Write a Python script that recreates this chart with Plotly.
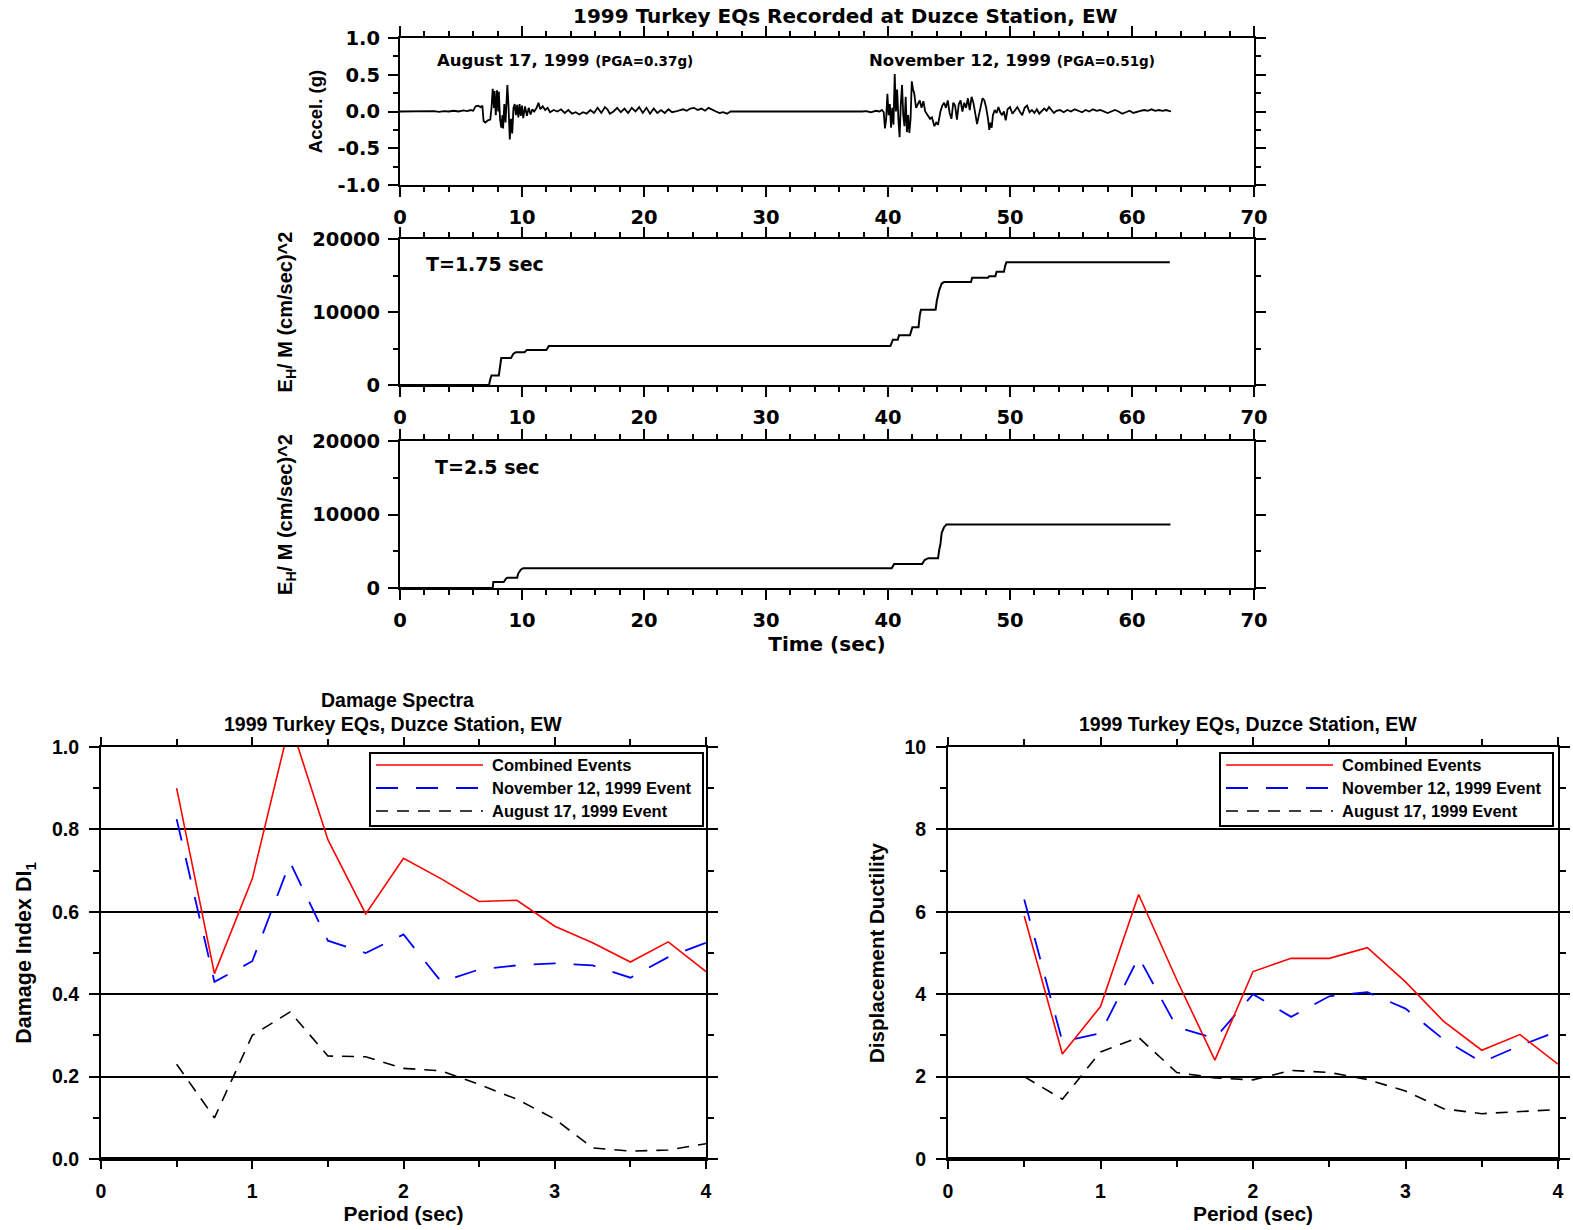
import plotly.graph_objects as go

W, H = 1573, 1230
FONT = "Liberation Sans, Arial, sans-serif"
FONT_WIDE = "DejaVu Sans, Liberation Sans, sans-serif"

# ---------------- data ----------------
# acceleration time history (g), both events back to back
acc_t = [0, 1.0, 1.2, 1.6, 2.0, 2.4, 2.8, 3.2, 3.6, 4.0, 4.4, 4.8, 5.2, 5.5, 5.8, 6.0, 6.2, 6.4, 6.6, 6.75,
         6.85, 7.0, 7.2, 7.4, 7.5, 7.6, 7.7, 7.75, 7.85, 7.95, 8.05, 8.1, 8.2, 8.3, 8.4, 8.45, 8.55, 8.65, 8.8, 8.9,
         9.0, 9.1, 9.2, 9.3, 9.4, 9.5, 9.6, 9.7, 9.8, 9.9, 10.0, 10.1, 10.25, 10.4, 10.55, 10.7, 10.85, 11.0, 11.2, 11.35,
         11.5, 11.7, 11.9, 12.1, 12.3, 12.6, 12.9, 13.2, 13.5, 13.8, 14.1, 14.4, 14.7, 15.0, 15.3, 15.6, 15.9, 16.2, 16.5, 16.8,
         17.0, 17.2, 17.5, 17.8, 18.1, 18.4, 18.7, 19.0, 19.3, 19.6, 19.9, 20.2, 20.5, 20.8, 21.1, 21.4, 21.7, 22.0, 22.3, 22.6,
         22.9, 23.2, 23.5, 23.8, 24.1, 24.4, 24.7, 25.0, 25.3, 25.6, 25.9, 26.2, 26.5, 26.8, 27.1,
         37.9, 38.2, 38.6, 39.0, 39.3, 39.5, 39.65, 39.75, 39.85, 39.95, 40.05, 40.15, 40.25, 40.35, 40.45, 40.55, 40.65,
         40.75, 40.85, 40.95, 41.05, 41.15, 41.25, 41.35, 41.45, 41.55, 41.65, 41.75, 41.85, 41.95, 42.05, 42.15, 42.3,
         42.45, 42.6, 42.75, 42.9, 43.05, 43.25, 43.45, 43.6, 43.8, 43.95, 44.1, 44.3, 44.45, 44.6, 44.75, 44.9, 45.05,
         45.2, 45.35, 45.5, 45.65, 45.8, 45.95, 46.1, 46.25, 46.4, 46.55, 46.7, 46.85, 47.0, 47.15, 47.3, 47.45, 47.6,
         47.75, 47.9, 48.05, 48.2, 48.3, 48.4, 48.5, 48.6, 48.75, 48.9, 49.05, 49.2, 49.35, 49.5, 49.65, 49.8, 50.0,
         50.2, 50.4, 50.6, 50.8, 51.0, 51.2, 51.4, 51.6, 51.8, 52.0, 52.2, 52.4, 52.6, 52.8, 53.0, 53.2, 53.4, 53.6,
         53.8, 54.1, 54.4, 54.7, 55.0, 55.3, 55.6, 55.9, 56.2, 56.5, 56.8, 57.1, 57.4, 57.7, 58.0, 58.3, 58.6, 58.9,
         59.2, 59.5, 59.8, 60.1, 60.4, 60.7, 61.0, 61.3, 61.6, 61.9, 62.2, 62.5, 62.8, 63.2]
acc_g = [0, 0.0, 0.01, 0.0, 0.01, 0.0, 0.005, -0.005, 0.005, 0.0, 0.01, 0.0, 0.015, 0.005, 0.02, 0.01, 0.07, 0.08, 0.06, 0.08,
         -0.13, -0.15, -0.12, -0.11, 0.05, 0.31, 0.05, 0.28, -0.05, 0.29, 0.0, 0.27, -0.1, -0.22, -0.05, -0.23, 0.1, -0.15, 0.36, 0.05,
         -0.38, -0.1, -0.3, 0.05, 0.1, -0.05, 0.09, -0.08, 0.1, -0.06, 0.08, -0.09, 0.07, -0.06, 0.05, -0.04, 0.03, 0.0, 0.05, 0.12,
         0.03, 0.07, 0.02, 0.05, -0.01, 0.02, 0.0, 0.03, -0.02, 0.02, -0.03, -0.01, -0.04, -0.01, -0.03, 0.02, -0.02, 0.05, -0.02, 0.06,
         0.03, -0.03, 0.0, 0.05, -0.01, 0.04, -0.02, 0.05, 0.0, 0.06, -0.02, 0.05, -0.03, 0.04, -0.02, 0.02, -0.02, 0.03, -0.01, 0.0,
         0.02, 0.03, 0.01, 0.04, 0.05, 0.02, 0.04, 0.01, 0.05, 0.02, 0.0, -0.02, -0.01, -0.03, 0.0,
         0.0, 0.005, -0.01, 0.01, 0.0, 0.02, -0.01, -0.23, -0.1, 0.24, -0.05, 0.1, -0.22, 0.05, -0.18, 0.51, 0.0,
         0.3, -0.1, -0.35, 0.1, 0.36, -0.05, -0.2, 0.2, -0.28, -0.05, -0.29, -0.1, 0.41, 0.3, 0.25, 0.05,
         0.1, 0.15, 0.05, 0.14, 0.0, -0.05, -0.1, -0.08, -0.2, -0.15, -0.18, 0.0, 0.08, 0.12, 0.05, 0.15, -0.02,
         -0.1, 0.12, 0.08, -0.11, 0.1, 0.15, 0.0, 0.12, 0.05, 0.18, 0.02, 0.2, 0.12, -0.05, -0.17, -0.05, 0.05,
         0.18, 0.15, 0.05, -0.1, -0.25, -0.15, -0.22, -0.05, 0.02, -0.02, 0.06, -0.01, -0.05, 0.0, -0.12, 0.03, 0.06,
         -0.03, 0.02, 0.06, 0.0, -0.05, 0.05, 0.08, -0.01, 0.02, -0.02, 0.03, -0.03, 0.0, 0.04, 0.01, 0.06, 0.02, -0.02,
         0.01, 0.02, -0.01, 0.02, 0.0, 0.03, 0.01, -0.01, 0.02, 0.0, 0.03, 0.01, 0.02, 0.0, -0.02, 0.0, 0.02, 0.0,
         -0.03, -0.01, 0.01, -0.02, 0.0, 0.01, 0.02, 0.01, 0.03, 0.01, 0.02, 0.01, 0.02, 0.0]

# hysteretic energy per unit mass, T = 1.75 s
e175_t = [0, 7.3, 7.4, 7.5, 8.1, 8.2, 8.3, 9.1, 9.3, 9.5, 10.2, 10.4, 12.0, 12.2, 40.2, 40.4, 40.8, 40.9, 41.8, 42.0,
          42.5, 42.6, 42.7, 43.9, 44.0, 44.2, 44.4, 44.6, 46.8, 46.9, 48.2, 48.3, 48.8, 48.9, 49.5, 49.6, 49.7, 63.1]
e175_v = [0, 0, 800, 1300, 1300, 3000, 3700, 3700, 4300, 4500, 4500, 4800, 4800, 5350, 5350, 6200, 6200, 6800, 6800, 7900,
          7900, 9500, 10300, 10300, 11500, 13000, 13900, 14100, 14100, 14700, 14700, 14900, 14900, 15500, 15500, 16300, 16800, 16800]

# hysteretic energy per unit mass, T = 2.5 s
e25_t = [0, 7.6, 7.65, 8.5, 8.7, 8.8, 9.6, 9.7, 9.9, 10.1, 40.3, 40.5, 42.8, 43.0, 43.3, 44.1, 44.2, 44.3, 44.4, 44.6, 44.8, 63.15]
e25_v = [0, 0, 800, 800, 1300, 1400, 1400, 2000, 2500, 2700, 2700, 3250, 3250, 3800, 4050, 4050, 5200, 6000, 7500, 8300, 8650, 8650]

period = [0.5, 0.75, 1.0, 1.25, 1.5, 1.75, 2.0, 2.25, 2.5, 2.75, 3.0, 3.25, 3.5, 3.75, 4.0]
di_comb = [0.90, 0.45, 0.68, 1.06, 0.775, 0.595, 0.73, 0.68, 0.625, 0.628, 0.565, 0.525, 0.478, 0.527, 0.455]
di_nov = [0.825, 0.43, 0.48, 0.72, 0.53, 0.50, 0.545, 0.43, 0.46, 0.47, 0.475, 0.47, 0.44, 0.49, 0.525]
di_aug = [0.23, 0.10, 0.30, 0.357, 0.25, 0.248, 0.22, 0.214, 0.181, 0.145, 0.097, 0.027, 0.019, 0.022, 0.037]

mu_comb = [5.9, 2.55, 3.7, 6.42, 4.35, 2.4, 4.55, 4.87, 4.87, 5.13, 4.3, 3.34, 2.64, 3.02, 2.3]
mu_nov = [6.3, 2.85, 3.05, 4.9, 3.2, 2.93, 4.0, 3.45, 3.95, 4.05, 3.65, 2.9, 2.35, 2.75, 3.1]
mu_aug = [2.0, 1.45, 2.6, 2.95, 2.1, 1.97, 1.92, 2.15, 2.1, 1.93, 1.65, 1.22, 1.1, 1.15, 1.2]

legend_names = ["Combined Events", "November 12, 1999 Event", "August 17, 1999 Event"]
acc_ticks = [-1.0, -0.5, 0.0, 0.5, 1.0]
acc_ticktext = ["-1.0", "-0.5", "0.0", "0.5", "1.0"]

# ---------------- layout helpers ----------------
def fx(px):
    return px / W

def fy(py):
    return 1 - py / H

TOP_X = [fx(400), fx(1254)]
P1_Y = [fy(185), fy(38)]
P2_Y = [fy(385), fy(239)]
P3_Y = [fy(588), fy(441)]
BL_X = [fx(101), fx(706)]
BR_X = [fx(948), fx(1558)]
B_Y = [fy(1159), fy(747)]

RED = "#ff0000"
BLUE = "#0000ff"
BLUE_DASH = "22px,18px"
BLACK_DASH = "12px,9px"

fig = go.Figure()

fig.add_trace(go.Scatter(x=acc_t, y=acc_g, mode="lines", line=dict(color="black", width=1.8),
                         xaxis="x", yaxis="y", showlegend=False))
fig.add_trace(go.Scatter(x=e175_t, y=e175_v, mode="lines", line=dict(color="black", width=2),
                         xaxis="x2", yaxis="y2", showlegend=False))
fig.add_trace(go.Scatter(x=e25_t, y=e25_v, mode="lines", line=dict(color="black", width=2),
                         xaxis="x3", yaxis="y3", showlegend=False))

for xa, ya, comb, nov, aug in [("x4", "y4", di_comb, di_nov, di_aug), ("x5", "y5", mu_comb, mu_nov, mu_aug)]:
    fig.add_trace(go.Scatter(x=period, y=aug, mode="lines", name=legend_names[2],
                             line=dict(color="black", width=1.6, dash=BLACK_DASH),
                             xaxis=xa, yaxis=ya, showlegend=False))
    fig.add_trace(go.Scatter(x=period, y=nov, mode="lines", name=legend_names[1],
                             line=dict(color=BLUE, width=1.8, dash=BLUE_DASH),
                             xaxis=xa, yaxis=ya, showlegend=False))
    fig.add_trace(go.Scatter(x=period, y=comb, mode="lines", name=legend_names[0],
                             line=dict(color=RED, width=1.6),
                             xaxis=xa, yaxis=ya, showlegend=False))


def bold(size, family=FONT):
    return dict(family=family, color="black", weight="bold", size=size)


def axis_common(**kw):
    d = dict(showline=True, linewidth=2, linecolor="black", mirror="ticks", automargin=False,
             ticks="outside", tickwidth=2, tickcolor="black", ticklen=10,
             zeroline=False, showgrid=False, fixedrange=True)
    d.update(kw)
    return d


def top_x(anchor, title=None):
    d = axis_common(domain=TOP_X, anchor=anchor, range=[0, 70], tick0=0, dtick=10,
                    tickfont=bold(19.5, FONT_WIDE), ticklabelstandoff=4,
                    minor=dict(dtick=2, ticks="outside", ticklen=5, tickwidth=2, tickcolor="black"))
    if title:
        d["title"] = dict(text=title, font=bold(20, FONT_WIDE), standoff=2)
    return d


E_TITLE = "E<sub>H</sub>/ M (cm/sec)^2"

layout = dict(
    width=W, height=H, margin=dict(l=0, r=0, t=0, b=0, autoexpand=False),
    paper_bgcolor="white", plot_bgcolor="white", showlegend=False,
    font=dict(family=FONT, color="black"),
    xaxis=top_x("y"),
    yaxis=axis_common(domain=P1_Y, anchor="x", range=[-1, 1], tickvals=acc_ticks, ticktext=acc_ticktext,
                      tickfont=bold(19.5, FONT_WIDE), ticklabelstandoff=4,
                      minor=dict(dtick=0.25, ticks="outside", ticklen=5, tickwidth=2, tickcolor="black"),
                      title=dict(text="Accel. (g)", font=bold(18.5), standoff=10)),
    xaxis2=top_x("y2"),
    yaxis2=axis_common(domain=P2_Y, anchor="x2", range=[0, 20000], tick0=0, dtick=10000, tickformat="d",
                       tickfont=bold(19.5, FONT_WIDE), ticklabelstandoff=4,
                       minor=dict(dtick=5000, ticks="outside", ticklen=5, tickwidth=2, tickcolor="black"),
                       title=dict(text=E_TITLE, font=bold(20), standoff=14)),
    xaxis3=top_x("y3", "Time (sec)"),
    yaxis3=axis_common(domain=P3_Y, anchor="x3", range=[0, 20000], tick0=0, dtick=10000, tickformat="d",
                       tickfont=bold(19.5, FONT_WIDE), ticklabelstandoff=4,
                       minor=dict(dtick=5000, ticks="outside", ticklen=5, tickwidth=2, tickcolor="black"),
                       title=dict(text=E_TITLE, font=bold(20), standoff=14)),
    xaxis4=axis_common(domain=BL_X, anchor="y4", range=[0, 4], tick0=0, dtick=1, ticklen=8,
                       tickfont=bold(19.5), ticklabelstandoff=6,
                       minor=dict(dtick=0.5, ticks="outside", ticklen=6, tickwidth=2, tickcolor="black"),
                       title=dict(text="Period (sec)", font=bold(21), standoff=3)),
    yaxis4=axis_common(domain=B_Y, anchor="x4", range=[0, 1], tick0=0, dtick=0.2, tickformat=".1f",
                       showgrid=True, gridcolor="black", gridwidth=2,
                       tickfont=bold(19.5), ticklabelstandoff=6,
                       minor=dict(dtick=0.1, ticks="outside", ticklen=6, tickwidth=2, tickcolor="black", showgrid=False),
                       title=dict(text="Damage Index DI<sub>1</sub>", font=bold(21.5), standoff=14)),
    xaxis5=axis_common(domain=BR_X, anchor="y5", range=[0, 4], tick0=0, dtick=1, ticklen=8,
                       tickfont=bold(19.5), ticklabelstandoff=6,
                       minor=dict(dtick=0.5, ticks="outside", ticklen=6, tickwidth=2, tickcolor="black"),
                       title=dict(text="Period (sec)", font=bold(21), standoff=3)),
    yaxis5=axis_common(domain=B_Y, anchor="x5", range=[0, 10], tick0=0, dtick=2, tickformat="d",
                       showgrid=True, gridcolor="black", gridwidth=2,
                       tickfont=bold(19.5), ticklabelstandoff=6,
                       minor=dict(dtick=1, ticks="outside", ticklen=6, tickwidth=2, tickcolor="black", showgrid=False),
                       title=dict(text="Displacement Ductility", font=bold(20.5), standoff=14)),
)
fig.update_layout(**layout)

ann = []


def text(x, y, s, font, anchor="center", yanchor="middle"):
    ann.append(dict(x=fx(x), y=fy(y), xref="paper", yref="paper", text=s, showarrow=False,
                    xanchor=anchor, yanchor=yanchor, font=font))


text(845, 16, "1999 Turkey EQs Recorded at Duzce Station, EW", bold(20, FONT_WIDE))
text(435, 61, "August 17, 1999 <span style='font-size:13.5px'>(PGA=0.37g)</span>", bold(16.5, FONT_WIDE), anchor="left")
text(867, 61, "November 12, 1999 <span style='font-size:13.5px'>(PGA=0.51g)</span>", bold(16.5, FONT_WIDE), anchor="left")
text(424, 264, "T=1.75 sec", bold(19, FONT_WIDE), anchor="left")
text(433, 467, "T=2.5 sec", bold(19, FONT_WIDE), anchor="left")
text(397, 700, "Damage Spectra", bold(19.5))
text(393, 724, "1999 Turkey EQs, Duzce Station, EW", bold(19.5))
text(1248, 724, "1999 Turkey EQs, Duzce Station, EW", bold(19.5))

shapes = []
# thick zero line at the bottom of each spectrum plot
for xa, ya in [("x4", "y4"), ("x5", "y5")]:
    shapes.append(dict(type="line", xref=xa + " domain", yref=ya, x0=0, x1=1, y0=0, y1=0,
                       line=dict(color="black", width=4)))

# legend boxes (drawn by hand so the line samples match the long samples of the original)
rows = [765, 788, 811]
styles = [dict(color=RED, width=1.6), dict(color=BLUE, width=1.8, dash=BLUE_DASH),
          dict(color="black", width=1.6, dash=BLACK_DASH)]
for bx in [370, 1220]:
    shapes.append(dict(type="rect", xref="paper", yref="paper", x0=fx(bx), x1=fx(bx + 333),
                       y0=fy(826), y1=fy(753), line=dict(color="black", width=2), fillcolor="white", layer="above"))
    for r, st, nm in zip(rows, styles, legend_names):
        shapes.append(dict(type="line", xref="paper", yref="paper", x0=fx(bx + 6), x1=fx(bx + 113),
                           y0=fy(r), y1=fy(r), line=st, layer="above"))
        text(bx + 120, r, nm, bold(16.5), anchor="left")

fig.update_layout(annotations=ann, shapes=shapes)
fig.write_html("out.html")
